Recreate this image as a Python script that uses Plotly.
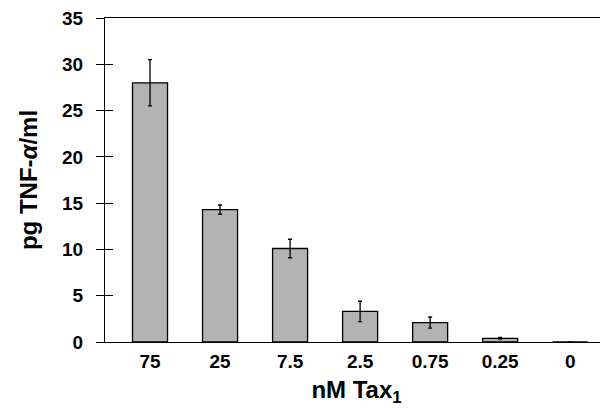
import plotly.graph_objects as go

categories = ["75", "25", "7.5", "2.5", "0.75", "0.25", "0"]
values = [28.0, 14.3, 10.1, 3.3, 2.1, 0.4, 0.0]
errors = [2.5, 0.5, 1.0, 1.1, 0.6, 0.1, 0.0]
y_ticks = [0, 5, 10, 15, 20, 25, 30, 35]

FONT = "Liberation Sans, Arial, sans-serif"

fig = go.Figure()
fig.add_trace(go.Bar(
    x=categories, y=values,
    error_y=dict(type="data", array=errors, visible=True, color="black",
                 thickness=1.3, width=2),
    marker=dict(color="#b3b3b3", line=dict(color="black", width=1.3)),
    width=0.5,
))
# invisible trace for inward tick marks on y axis
fig.add_trace(go.Scatter(x=categories, y=values, yaxis="y2",
                         mode="markers", marker=dict(opacity=0),
                         hoverinfo="skip", showlegend=False))

fig.update_layout(
    width=600, height=400,
    margin=dict(l=97, r=0, t=10, b=66),
    paper_bgcolor="white", plot_bgcolor="white",
    showlegend=False,
    font=dict(family=FONT, color="black", size=19),
    xaxis=dict(
        type="category", range=[-0.643, 6.54],
        showline=True, linecolor="black", linewidth=1.3, mirror=True,
        ticks="", showgrid=False, ticklabelstandoff=2,
        tickfont=dict(size=19, family=FONT, weight="bold", color="black"),
        title=dict(text="<b>nM Tax<sub>1</sub></b>",
                   font=dict(size=24, family=FONT, color="black"), standoff=10),
    ),
    yaxis=dict(
        range=[0, 35], tickvals=y_ticks,
        showline=True, linecolor="black", linewidth=1.3,
        ticks="outside", ticklen=8, tickwidth=1.3, tickcolor="black",
        showgrid=False, zeroline=False, ticklabelstandoff=9,
        ticklabeloverflow="allow",
        tickfont=dict(size=19, family=FONT, weight="bold", color="black"),
        title=dict(text="<b>pg TNF-<i>α</i>/ml</b>",
                   font=dict(size=24, family=FONT, color="black"), standoff=17),
    ),
    yaxis2=dict(
        range=[0, 35], tickvals=y_ticks, overlaying="y", side="left",
        showline=False, showticklabels=False,
        ticks="inside", ticklen=8, tickwidth=1.3, tickcolor="black",
        showgrid=False, zeroline=False,
    ),
)

fig.write_html("out.html")
